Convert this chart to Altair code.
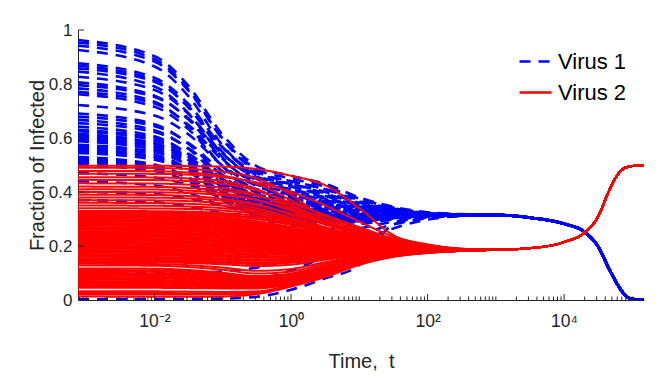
import altair as alt
import pandas as pd

# ---------------- data ----------------
# log10 of time at which each run is sampled (early, run-specific part)
LOG_T_EARLY = [-3.12, -2.0, -1.5, -1.0, -0.5, 0.0, 0.5, 1.0, 1.5, 2.0, 2.5]
# log10 of time for the common late part (all runs coincide)
LOG_T_TAIL = [3.0, 3.5, 4.0, 4.3, 4.5, 4.65, 4.8, 4.93, 5.05, 5.17]
BLUE_TAIL = [0.315, 0.305, 0.282, 0.252, 0.197, 0.12, 0.05, 0.01, 0.002, 0.0]
RED_TAIL = [0.186, 0.192, 0.215, 0.25, 0.31, 0.40, 0.47, 0.493, 0.497, 0.497]

# Virus 1 (blue dashed) runs, values at LOG_T_EARLY
BLUE_RUNS = [
    [.963, .903, .792, .611, .495, .46, .43, .38, .345, .325, .318],
    [.954, .892, .779, .594, .476, .44, .41, .37, .34, .322, .317],
    [.942, .883, .775, .598, .484, .45, .42, .375, .342, .323, .317],
    [.926, .865, .754, .572, .455, .42, .39, .355, .335, .32, .316],
    [.877, .823, .725, .564, .461, .43, .40, .36, .337, .321, .317],
    [.868, .813, .712, .547, .442, .41, .375, .345, .33, .319, .316],
    [.858, .808, .716, .565, .469, .44, .41, .365, .34, .322, .317],
    [.846, .791, .691, .527, .422, .39, .36, .335, .325, .318, .316],
    [.827, .778, .689, .542, .448, .42, .385, .35, .333, .32, .316],
    [.806, .757, .668, .522, .428, .40, .37, .34, .328, .318, .316],
    [.796, .752, .672, .54, .456, .43, .395, .355, .335, .32, .316],
    [.784, .734, .643, .494, .399, .37, .345, .325, .318, .316, .315],
    [.771, .728, .648, .518, .435, .41, .38, .345, .33, .319, .316],
    [.762, .716, .632, .495, .407, .38, .35, .33, .322, .317, .315],
    [.722, .683, .613, .497, .423, .40, .365, .335, .326, .318, .316],
    [.691, .651, .578, .459, .383, .36, .335, .318, .315, .315, .315],
    [.679, .644, .581, .477, .41, .39, .36, .335, .325, .318, .316],
    [.667, .629, .559, .445, .372, .35, .325, .31, .312, .314, .315],
    [.655, .622, .562, .463, .399, .38, .35, .33, .322, .317, .315],
    [.642, .606, .539, .431, .361, .34, .315, .305, .31, .314, .315],
    [.630, .599, .542, .448, .388, .37, .345, .325, .32, .316, .315],
    [.625, .591, .53, .429, .365, .345, .32, .305, .31, .313, .315],
    [.615, .581, .518, .416, .35, .33, .31, .30, .308, .313, .315],
    [.607, .579, .528, .445, .391, .375, .35, .33, .32, .316, .315],
    [.600, .571, .518, .432, .377, .36, .34, .32, .317, .316, .315],
    [.595, .564, .507, .413, .353, .335, .312, .302, .308, .313, .315],
    [.588, .556, .497, .40, .339, .32, .30, .297, .306, .313, .315],
    [.575, .548, .499, .418, .366, .35, .33, .315, .315, .315, .315],
    [.568, .539, .485, .398, .342, .325, .305, .298, .306, .312, .314],
    [.560, .53, .475, .385, .328, .31, .295, .295, .305, .312, .314],
    [.552, .529, .487, .418, .373, .36, .335, .318, .316, .315, .315],
    [.545, .52, .475, .402, .354, .34, .32, .31, .312, .314, .315],
    [.530, .502, .452, .369, .316, .30, .29, .292, .303, .311, .314],
    [.522, .497, .452, .377, .329, .315, .30, .297, .306, .312, .314],
    [.515, .493, .452, .386, .343, .33, .315, .307, .31, .313, .315],
    [.508, .488, .453, .394, .356, .345, .325, .312, .313, .314, .315],
    [.500, .478, .439, .374, .333, .32, .305, .30, .307, .312, .314],
    [.470, .454, .426, .379, .349, .34, .32, .31, .312, .314, .315],
    [.440, .424, .396, .349, .319, .31, .298, .296, .305, .312, .314],
    [.400, .392, .376, .351, .335, .33, .31, .303, .309, .313, .315],
    [.370, .362, .346, .321, .305, .30, .29, .293, .304, .311, .314],
    [.320, .32, .319, .318, .317, .315, .305, .30, .307, .312, .314],
    [.280, .28, .281, .283, .286, .29, .287, .29, .302, .31, .314],
    [.240, .24, .241, .245, .255, .27, .28, .29, .302, .31, .314],
    [.200, .20, .201, .206, .218, .24, .26, .28, .298, .309, .313],
    [.145, .145, .147, .153, .17, .20, .235, .265, .29, .306, .313],
    [.100, .10, .101, .106, .12, .15, .195, .24, .28, .303, .312],
    [.060, .06, .061, .064, .075, .11, .16, .215, .265, .298, .311],
    [.003, .003, .004, .005, .012, .038, .08, .13, .28, .305, .312],
]

# Virus 2 (red solid) runs, values at LOG_T_EARLY
RED_RUNS = [
    [.497, .497, .496, .494, .485, .46, .425, .34, .24, .205, .19],
    [.490, .489, .485, .475, .45, .39, .30, .25, .22, .20, .188],
    [.478, .477, .472, .46, .43, .37, .31, .265, .225, .203, .189],
    [.468, .467, .464, .455, .435, .40, .35, .29, .235, .206, .19],
    [.455, .454, .45, .44, .41, .35, .29, .255, .222, .202, .189],
    [.445, .444, .44, .43, .405, .36, .315, .27, .228, .204, .189],
    [.432, .431, .427, .415, .39, .34, .285, .25, .22, .20, .188],
    [.420, .419, .415, .405, .385, .35, .30, .26, .225, .203, .189],
    [.410, .409, .405, .395, .37, .33, .28, .245, .218, .20, .188],
    [.400, .399, .396, .388, .37, .335, .29, .25, .22, .201, .188],
    [.390, .389, .385, .375, .355, .315, .27, .24, .215, .199, .187],
    [.380, .379, .376, .368, .35, .32, .28, .245, .218, .20, .188],
    [.370, .369, .366, .358, .34, .305, .265, .235, .213, .198, .187],
    [.360, .359, .356, .349, .332, .30, .262, .233, .212, .198, .187],
    [.350, .349, .346, .34, .325, .295, .26, .232, .211, .197, .187],
    [.340, .339, .337, .331, .318, .29, .257, .23, .21, .197, .187],
    [.330, .329, .327, .322, .31, .285, .253, .228, .209, .196, .186],
    [.325, .324, .322, .316, .303, .28, .25, .226, .208, .196, .186],
    [.320, .319, .317, .312, .30, .278, .25, .226, .208, .196, .186],
    [.315, .314, .312, .306, .292, .27, .245, .223, .206, .195, .186],
    [.310, .309, .307, .302, .29, .268, .244, .222, .206, .195, .186],
    [.305, .304, .302, .297, .286, .265, .242, .222, .206, .195, .186],
    [.300, .299, .297, .293, .282, .262, .24, .221, .205, .195, .186],
    [.295, .294, .292, .288, .278, .26, .238, .22, .205, .195, .186],
    [.290, .289, .287, .283, .274, .256, .236, .218, .204, .194, .186],
    [.285, .284, .282, .278, .269, .253, .234, .217, .204, .194, .186],
    [.280, .279, .278, .274, .265, .25, .232, .216, .203, .194, .186],
    [.275, .274, .273, .269, .261, .247, .23, .215, .203, .194, .186],
    [.270, .269, .268, .265, .257, .243, .228, .214, .202, .193, .185],
    [.265, .264, .263, .26, .253, .24, .226, .213, .202, .193, .185],
    [.260, .259, .258, .255, .249, .237, .224, .212, .201, .193, .185],
    [.255, .254, .253, .25, .244, .234, .222, .211, .201, .193, .185],
    [.250, .249, .248, .245, .24, .23, .22, .21, .20, .192, .185],
    [.245, .244, .243, .24, .235, .227, .218, .208, .20, .192, .185],
    [.240, .239, .238, .236, .231, .224, .215, .207, .199, .192, .185],
    [.235, .234, .233, .231, .227, .22, .213, .205, .198, .192, .185],
    [.230, .229, .228, .226, .222, .217, .21, .203, .197, .191, .185],
    [.225, .224, .223, .221, .218, .213, .208, .202, .197, .191, .185],
    [.220, .219, .218, .216, .213, .209, .205, .201, .196, .191, .185],
    [.215, .214, .213, .211, .208, .205, .202, .199, .195, .19, .184],
    [.210, .209, .208, .206, .203, .2, .198, .196, .193, .19, .184],
    [.205, .204, .203, .201, .198, .196, .195, .194, .192, .189, .184],
    [.200, .199, .198, .196, .193, .192, .191, .191, .19, .188, .184],
    [.195, .194, .193, .191, .188, .187, .188, .189, .189, .188, .184],
    [.190, .189, .188, .186, .183, .183, .185, .187, .188, .187, .184],
    [.185, .184, .183, .181, .178, .178, .181, .185, .187, .187, .184],
    [.180, .179, .178, .176, .172, .173, .178, .183, .186, .186, .184],
    [.175, .174, .173, .17, .167, .168, .174, .18, .184, .185, .184],
    [.170, .169, .168, .165, .161, .163, .171, .178, .183, .185, .183],
    [.165, .164, .163, .16, .156, .158, .167, .176, .182, .184, .183],
    [.160, .159, .157, .154, .15, .153, .164, .174, .181, .184, .183],
    [.155, .154, .152, .149, .145, .148, .16, .172, .18, .183, .183],
    [.150, .149, .147, .143, .139, .143, .157, .17, .179, .183, .183],
    [.145, .144, .142, .138, .133, .138, .153, .168, .178, .182, .183],
    [.140, .139, .137, .132, .126, .131, .149, .165, .177, .182, .183],
    [.134, .133, .129, .12, .108, .115, .14, .161, .175, .181, .183],
    [.128, .127, .122, .112, .098, .106, .134, .158, .174, .18, .182],
    [.117, .116, .111, .101, .088, .097, .127, .155, .172, .179, .182],
    [.111, .11, .106, .097, .085, .095, .125, .154, .172, .179, .182],
    [.106, .105, .102, .095, .088, .098, .126, .155, .172, .179, .182],
    [.100, .099, .096, .09, .085, .095, .123, .153, .171, .179, .182],
    [.095, .094, .091, .085, .08, .091, .12, .152, .17, .178, .182],
    [.090, .089, .086, .08, .076, .087, .117, .15, .17, .178, .182],
    [.085, .084, .082, .076, .072, .083, .114, .148, .169, .178, .182],
    [.080, .079, .077, .072, .068, .08, .112, .147, .168, .178, .182],
    [.075, .074, .072, .068, .064, .076, .109, .145, .167, .177, .182],
    [.070, .069, .067, .063, .06, .073, .106, .144, .167, .177, .182],
    [.065, .064, .063, .059, .056, .07, .103, .142, .166, .176, .182],
    [.060, .059, .058, .055, .053, .067, .10, .14, .165, .176, .182],
    [.055, .054, .053, .051, .049, .064, .098, .139, .164, .176, .182],
    [.050, .05, .049, .047, .046, .062, .096, .138, .164, .176, .182],
    [.045, .045, .044, .043, .043, .06, .094, .137, .163, .176, .182],
    [.032, .032, .031, .03, .032, .056, .091, .135, .162, .175, .182],
    [.026, .026, .025, .025, .029, .054, .089, .134, .161, .175, .182],
    [.020, .02, .02, .02, .025, .052, .088, .133, .161, .175, .182],
    [.013, .012, .012, .013, .022, .05, .085, .13, .16, .174, .182],
]

VIRUS_NAMES = ["Virus 1", "Virus 2"]
VIRUS_COLORS = ["#0000ff", "#ff0000"]
Y_TICKS = [0, 0.2, 0.4, 0.6, 0.8, 1.0]
X_LABEL_DECADES = [-2, 0, 2, 4]

LOG_MIN, LOG_MAX = -3.12, 5.17
W, H = 566, 270
FONT = "Liberation Sans"
AX = "#262626"


def runs_frame(runs, tail, name, prefix):
    rows = []
    lt_all = LOG_T_EARLY + LOG_T_TAIL
    for i, run in enumerate(runs):
        for lt, v in zip(lt_all, run + tail):
            rows.append({"run": f"{prefix}{i:02d}", "virus": name, "t": 10 ** lt, "v": v})
    return pd.DataFrame(rows)


blue_df = runs_frame(BLUE_RUNS, BLUE_TAIL, VIRUS_NAMES[0], "b")
red_df = runs_frame(RED_RUNS, RED_TAIL, VIRUS_NAMES[1], "r")

# axis tick positions (log decades, minor 2..9 and odd decades)
major_x = [10.0 ** d for d in X_LABEL_DECADES]
minor_x = []
for d in range(-4, 6):
    for k in range(1, 10):
        val = k * 10.0 ** d
        if not (10 ** LOG_MIN <= val <= 10 ** LOG_MAX):
            continue
        if k == 1 and d in X_LABEL_DECADES:
            continue
        minor_x.append(val)
xmaj_df = pd.DataFrame({"t": major_x})
xmin_df = pd.DataFrame({"t": minor_x})
ytick_df = pd.DataFrame({"v": Y_TICKS})

x_scale = alt.Scale(type="log", domain=[10 ** LOG_MIN, 10 ** LOG_MAX], nice=False)
y_scale = alt.Scale(domain=[0, 1], nice=False)

x_axis = alt.Axis(
    values=major_x,
    labelExpr="datum.value < 0.1 ? '10⁻²' : datum.value < 10 ? '10⁰' : datum.value < 1000 ? '10²' : '10⁴'",
    labelPadding=12,
    labelFontSize=17.5,
    title="Time,\u00a0\u00a0t",
    titleX=W / 2,
    titleY=67,
    titleAlign="center",
    titleBaseline="alphabetic",
    grid=False,
    ticks=False,
)
y_axis = alt.Axis(
    values=Y_TICKS,
    format=".1~f",
    labelPadding=6,
    labelFontSize=17,
    title="Fraction of Infected",
    titleX=-35,
    titleY=H / 2,
    titleAngle=270,
    titleAlign="center",
    titleBaseline="alphabetic",
    grid=False,
    ticks=False,
)

X = alt.X("t:Q", scale=x_scale, axis=x_axis)
Y = alt.Y("v:Q", scale=y_scale, axis=y_axis)

legend = alt.Legend(
    title=None,
    orient="none",
    legendX=440,
    legendY=14,
    symbolType="stroke",
    symbolSize=1024,
    symbolStrokeWidth=2.5,
    labelFontSize=22,
    labelFont=FONT,
    labelColor="#000000",
    labelOffset=5,
    rowPadding=2,
    padding=0,
)
color = alt.Color("virus:N", scale=alt.Scale(domain=VIRUS_NAMES, range=VIRUS_COLORS), legend=legend)
dash = alt.StrokeDash("virus:N", scale=alt.Scale(domain=VIRUS_NAMES, range=[[11, 8], [1, 0]]), legend=legend)

blue = alt.Chart(blue_df).mark_line(strokeWidth=2.6, interpolate="monotone", clip=True).encode(
    x=X, y=Y, color=color, strokeDash=dash, detail="run:N"
)
red = alt.Chart(red_df).mark_line(strokeWidth=2.0, interpolate="monotone", clip=True).encode(
    x=X, y=Y, color=color, strokeDash=dash, detail="run:N"
)

xmaj = alt.Chart(xmaj_df).mark_rule(color=AX, strokeWidth=1).encode(
    x=X, y=alt.value(H), y2=alt.value(H - 6)
)
xmin = alt.Chart(xmin_df).mark_rule(color=AX, strokeWidth=1).encode(
    x=X, y=alt.value(H), y2=alt.value(H - 3.5)
)
ytk = alt.Chart(ytick_df).mark_rule(color=AX, strokeWidth=1).encode(
    y=Y, x=alt.value(0), x2=alt.value(6)
)

chart = (
    alt.layer(blue, red, xmaj, xmin, ytk)
    .properties(
        width=W,
        height=H,
        autosize=alt.AutoSizeParams(type="none"),
        padding={"left": 70, "top": 22, "right": 12, "bottom": 72},
        background="white",
    )
    .configure_axis(
        labelFont=FONT,
        titleFont=FONT,
        labelColor=AX,
        titleColor=AX,
        domainColor=AX,
        domainWidth=1,
        titleFontSize=20,
        titleFontWeight="normal",
    )
    .configure_view(stroke=None)
)

chart.save("out.html", embed_options={"renderer": "svg", "actions": False})
